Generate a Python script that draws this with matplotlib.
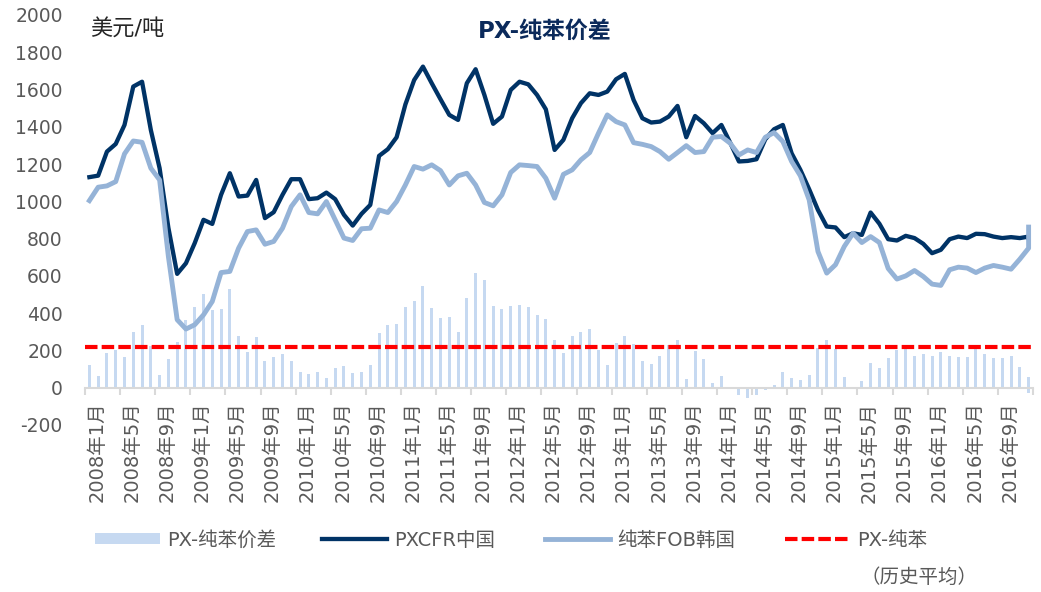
import numpy as np
import pandas as pd
import matplotlib
matplotlib.use('Agg')
import matplotlib.pyplot as plt
from matplotlib.transforms import ScaledTranslation

plt.rcParams['font.family'] = ['DejaVu Sans', 'Noto Sans CJK SC']
plt.rcParams['axes.unicode_minus'] = False

# monthly categories, 2008-01 .. 2016-12 (the last month has two readings)
months = pd.period_range('2008-01', '2016-12', freq='M')

px_cfr = [1130, 1138, 1267, 1308, 1410, 1616, 1642, 1383, 1178, 858, 611, 668,
          776, 901, 879, 1035, 1151, 1026, 1031, 1115, 910, 942, 1035, 1119,
          1119, 1012, 1017, 1047, 1012, 928, 870, 933, 981, 1244, 1280, 1344,
          1520, 1651, 1723, 1634, 1548, 1464, 1437, 1634, 1709, 1571, 1416, 1455,
          1598, 1642, 1628, 1571, 1494, 1276, 1330, 1446, 1527, 1580, 1571, 1589,
          1655, 1684, 1544, 1446, 1423, 1428, 1455, 1512, 1344, 1458, 1419, 1366,
          1410, 1315, 1214, 1217, 1226, 1333, 1387, 1410, 1258, 1169, 1065, 954,
          865, 860, 808, 829, 820, 940, 880, 797, 790, 815, 803, 772,
          722, 740, 797, 811, 803, 826, 824, 811, 803, 808, 803, 811, 805]

bz_fob = [1004, 1076, 1083, 1106, 1255, 1324, 1317, 1178, 1115, 704, 365, 315,
          338, 391, 463, 618, 624, 749, 838, 847, 770, 785, 856, 972,
          1035, 940, 933, 999, 901, 803, 790, 853, 856, 954, 940, 999,
          1088, 1187, 1173, 1196, 1165, 1088, 1137, 1151, 1088, 994, 976, 1035,
          1155, 1196, 1192, 1187, 1124, 1017, 1145, 1169, 1223, 1262, 1366, 1464,
          1428, 1410, 1315, 1306, 1294, 1267, 1226, 1262, 1299, 1262, 1267, 1344,
          1348, 1312, 1249, 1276, 1262, 1344, 1369, 1321, 1214, 1137, 1008, 731,
          615, 660, 758, 829, 779, 811, 779, 640, 583, 600, 629, 597,
          556, 549, 633, 647, 642, 618, 642, 656, 647, 636, 690, 749, 862]

spread = [123, 64, 186, 200, 164, 298, 338, 222, 68, 154, 247, 365,
          433, 504, 418, 424, 529, 279, 190, 272, 141, 164, 180, 145,
          82, 75, 87, 52, 105, 118, 79, 84, 123, 293, 338, 343,
          433, 463, 547, 427, 372, 377, 297, 481, 615, 579, 441, 422,
          440, 445, 433, 390, 368, 257, 188, 275, 298, 315, 200, 123,
          240, 275, 236, 141, 129, 168, 231, 254, 47, 198, 156, 28,
          64, 3, -37, -55, -37, -14, 16, 86, 50, 43, 70, 213,
          254, 207, 55, 2, 38, 132, 105, 159, 204, 210, 172, 182,
          168, 191, 168, 163, 163, 207, 182, 159, 159, 168, 109, 57, -28]

spread_avg = 218

tick_labels = [f'{p.year}年{p.month}月' for p in months[::4]]

x = np.arange(len(months))
xp = np.append(x, x[-1])

fig = plt.figure(figsize=(10.41, 5.92), dpi=100)
ax = fig.add_axes([85 / 1041, 1 - 425 / 592, 948 / 1041, 410 / 592])

bars = ax.bar(xp, spread, width=0.33, color='#c6d9f1', zorder=1)
l1, = ax.plot(xp, px_cfr, color='#003366', lw=3.1, zorder=3)
l2, = ax.plot(xp, bz_fob, color='#95b3d7', lw=3.5, zorder=4)
l3 = ax.axhline(spread_avg, color='#ff0000', lw=3, dashes=(3, 1), zorder=5)

ax.set_xlim(-0.5, len(months) - 0.5)
ax.set_ylim(-200, 2000)
ax.set_yticks(range(-200, 2001, 200))

for s in ['top', 'right', 'left']:
    ax.spines[s].set_visible(False)
ax.spines['bottom'].set_position(('data', 0))
ax.spines['bottom'].set_color('#d9d9d9')
ax.spines['bottom'].set_linewidth(1.5)

ax.tick_params(axis='y', length=0, pad=16, labelsize=13.5, labelcolor='#595959')
ax.set_xticks(x[::4])
ax.set_xticklabels(tick_labels, rotation=90, fontsize=14, color='#595959')
ax.set_xticks(np.arange(-0.5, len(months), 4), minor=True)
ax.tick_params(axis='x', which='major', length=0, pad=10)
ax.tick_params(axis='x', which='minor', length=5, width=1.5, color='#d9d9d9')

shift = ScaledTranslation(7.5 / 100, 0, fig.dpi_scale_trans)
for lab in ax.get_xticklabels():
    lab.set_transform(lab.get_transform() + shift)

fig.text(545 / 1041, 1 - 31 / 592, 'PX-纯苯价差', ha='center', va='center',
         fontsize=16.5, fontweight='bold', color='#0b2a5b')
fig.text(90 / 1041, 1 - 29 / 592, '美元/吨', ha='left', va='center',
         fontsize=16, color='#262626')

entries = [(bars, 'PX-纯苯价差', 95), (l1, 'PXCFR中国', 322),
           (l2, '纯苯FOB韩国', 545), (l3, 'PX-纯苯', 785)]
for h, lab, xpx in entries:
    fig.legend([h], [lab], loc='center left', bbox_to_anchor=(xpx / 1041, 1 - 540 / 592),
               frameon=False, fontsize=14, labelcolor='#595959', handlelength=3.35,
               handleheight=0.55, handletextpad=0.36, borderpad=0, borderaxespad=0)
fig.text(860 / 1041, 1 - 577 / 592, '（历史平均）', ha='left', va='center',
         fontsize=14, color='#595959')

fig.savefig('out.png', dpi=100)
